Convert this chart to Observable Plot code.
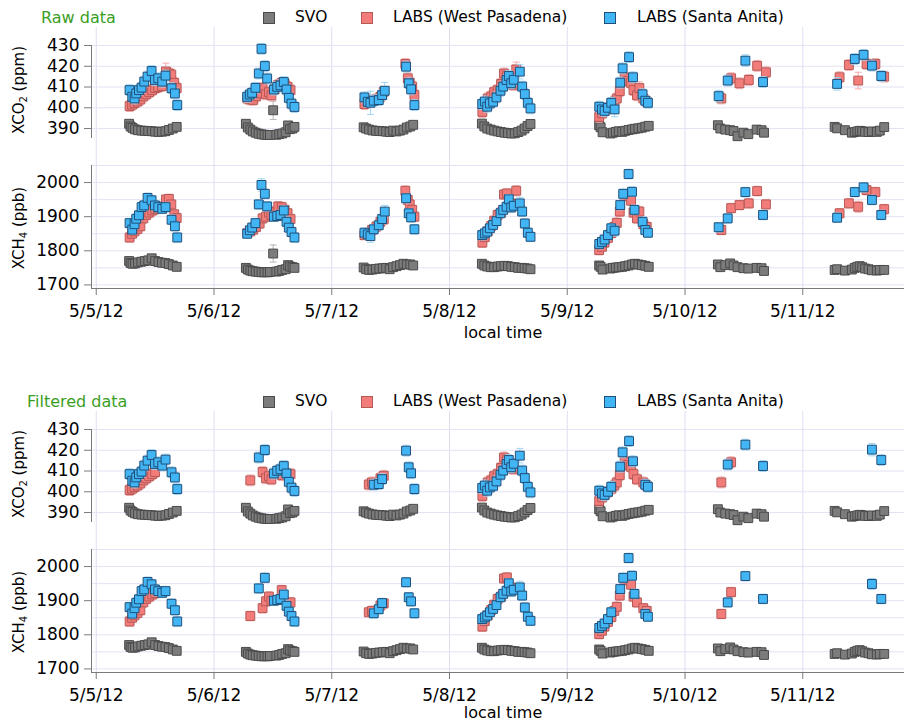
<!DOCTYPE html>
<html><head><meta charset="utf-8">
<script src="https://cdn.jsdelivr.net/npm/d3@7"></script>
<script src="https://cdn.jsdelivr.net/npm/@observablehq/plot@0.6"></script>
<style>
body{margin:0;background:#fff;font-family:"DejaVu Sans",sans-serif;}
#root{position:relative;width:904px;height:724px;overflow:hidden;background:#fff;}
.abs{position:absolute;white-space:nowrap;line-height:1;}
.plot{position:absolute;left:0;}
sub{font-size:10px;vertical-align:-3px;line-height:0;}
.sq{position:absolute;width:10px;height:10px;border:1px solid;}
</style></head>
<body><div id="root"></div>
<script>
// ---------- axis & legend text ----------
const panelTitles = ["Raw data", "Filtered data"];
const seriesNames = ["SVO", "LABS (West Pasadena)", "LABS (Santa Anita)"];
const xTitle = "local time";
const dayTicks = [5, 6, 7, 8, 9, 10, 11];
const dayLabels = ["5/5/12", "5/6/12", "5/7/12", "5/8/12", "5/9/12", "5/10/12", "5/11/12"];
const xExtent = ["2012-05-04T23:02:00Z", "2012-05-11T20:44:00Z"];
const co2Extent = [385.2, 430];
const co2Ticks = [390, 400, 410, 420, 430];
const ch4Extent = [1689.5, 2050];
const ch4Ticks = [1700, 1800, 1900, 2000];
const ch4Grid = [1700, 1750, 1800, 1850, 1900, 1950, 2000, 2050];
// typical 1-sigma error bars when not listed per point
const typicalErr = {svoCO2: 0.6, labsCO2: 2.6, svoCH4: 4, labsCH4: 14};

// ---------- data: [day of May 2012, local hour, value, (error)] ----------
// RAW
const svoCO2Raw = [
[5,6.7,392.3],[5,7.0,391.0],[5,7.4,390.3],[5,7.9,389.6],[5,8.5,389.2],[5,9.2,389.0],[5,9.9,388.9],[5,10.6,388.8],[5,11.3,388.7],[5,12.0,388.5],[5,12.7,388.4],[5,13.4,388.5],[5,14.1,388.7],[5,14.8,389.3],[5,15.6,390.0],[5,16.4,390.8],
[6,6.5,392.3],[6,6.9,390.5],[6,7.4,389.5],[6,7.9,388.6],[6,8.5,388.0],[6,9.1,387.5],[6,9.7,387.2],[6,10.3,387.0],[6,10.9,386.9],[6,11.4,386.9],[6,12.06,398.8,4.4],[6,12.7,387.0],[6,13.3,387.3],[6,13.9,387.6],[6,14.6,388.2],[6,15.1,391.5,1.5],[6,15.5,389.7],[6,16.0,390.0],[6,16.4,390.8],
[7,6.5,390.6],[7,7.0,390.0],[7,7.6,389.5],[7,8.3,389.1],[7,9.0,388.9],[7,9.7,388.8],[7,10.4,388.7],[7,11.1,388.5],[7,11.8,388.3],[7,12.5,389.0],[7,13.2,388.6],[7,13.9,389.0],[7,14.6,389.5],[7,15.3,390.5],[7,16.0,391.0],[7,16.6,391.8],
[8,6.6,392.4],[8,7.1,391.0],[8,7.7,390.0],[8,8.4,389.5],[8,9.1,389.0],[8,9.8,388.6],[8,10.5,388.3],[8,11.2,388.0],[8,11.9,387.8],[8,12.6,387.6],[8,13.3,387.7],[8,14.0,388.3],[8,14.7,389.0],[8,15.3,390.0],[8,15.9,391.2],[8,16.5,392.2],
[9,6.5,391.5],[9,6.8,390.6],[9,7.2,388.2],[9,8.8,387.6],[9,9.3,388.0],[9,9.9,388.4],[9,10.5,388.7],[9,11.2,388.4],[9,11.8,388.9],[9,12.5,389.3],[9,13.2,389.6],[9,13.8,389.9],[9,14.5,390.1],[9,15.2,390.4],[9,15.9,390.9],[9,16.6,391.3],
[10,6.7,391.6],[10,7.2,390.0],[10,8.2,389.5],[10,9.2,389.2],[10,9.9,388.8],[10,10.7,386.3],[10,11.9,388.0],[10,12.9,387.3],[10,14.6,389.5],[10,15.6,389.2],[10,16.1,388.0],
[11,6.5,390.8],[11,7.0,390.1],[11,8.6,389.2],[11,10.0,388.0],[11,10.6,388.3],[11,11.1,388.6],[11,11.6,388.9],[11,12.1,388.7],[11,12.7,388.4],[11,13.4,388.3],[11,14.1,388.6],[11,15.1,388.4],[11,15.7,389.0],[11,16.6,390.7]
];
const svoCH4Raw = [
[5,6.7,1770],[5,7.0,1764],[5,7.4,1762],[5,7.9,1763],[5,8.5,1766],[5,9.2,1768],[5,9.9,1770],[5,10.6,1772],[5,11.3,1778],[5,12.0,1770],[5,12.7,1767],[5,13.4,1765],[5,14.1,1764],[5,14.8,1761],[5,15.6,1757],[5,16.4,1753],
[6,6.5,1750],[6,6.9,1745],[6,7.4,1742],[6,7.9,1740],[6,8.5,1739],[6,9.1,1738],[6,9.7,1737],[6,10.3,1737],[6,10.9,1737],[6,11.4,1738],[6,12.06,1792,25],[6,12.7,1739],[6,13.3,1741],[6,13.9,1744],[6,14.6,1746],[6,15.1,1758],[6,15.5,1754],[6,16.0,1752],[6,16.4,1750],
[7,6.5,1751],[7,7.0,1746],[7,7.6,1744],[7,8.3,1745],[7,9.0,1747],[7,9.7,1748],[7,10.4,1749],[7,11.1,1750],[7,11.8,1746],[7,12.5,1752],[7,13.2,1755],[7,13.9,1758],[7,14.6,1762],[7,15.3,1760],[7,16.0,1760],[7,16.6,1757],
[8,6.6,1762],[8,7.1,1757],[8,7.7,1754],[8,8.4,1752],[8,9.1,1752],[8,9.8,1754],[8,10.5,1755],[8,11.2,1756],[8,11.9,1755],[8,12.6,1753],[8,13.3,1752],[8,14.0,1750],[8,14.7,1750],[8,15.3,1749],[8,15.9,1748],[8,16.5,1746],
[9,6.5,1757],[9,6.8,1753],[9,7.2,1745],[9,8.8,1748],[9,9.3,1750],[9,9.9,1751],[9,10.5,1752],[9,11.2,1753],[9,11.8,1755],[9,12.5,1757],[9,13.2,1760],[9,13.8,1762],[9,14.5,1760],[9,15.2,1758],[9,15.9,1756],[9,16.6,1753],
[10,6.7,1760],[10,7.2,1752],[10,8.2,1758],[10,9.2,1763],[10,9.9,1757],[10,10.7,1752],[10,11.9,1749],[10,12.9,1748],[10,14.6,1750],[10,15.6,1749],[10,16.1,1741],
[11,6.5,1744],[11,7.0,1746],[11,8.6,1742],[11,10.0,1745],[11,10.6,1750],[11,11.1,1753],[11,11.6,1755],[11,12.1,1752],[11,12.7,1748],[11,13.4,1746],[11,14.1,1743],[11,15.1,1742],[11,15.7,1744],[11,16.6,1744]
];
const wpCO2Raw = [
[5,6.8,400.8],[5,7.3,401.5],[5,7.8,402.3],[5,8.4,403.0],[5,9.0,404.0],[5,9.6,405.5],[5,10.2,406.5],[5,10.8,407.5],[5,11.4,408.5],[5,12.0,409.5],[5,12.6,410.0],[5,13.4,410.5],[5,14.2,417.5,4],[5,14.8,416.5],[5,15.3,416.0],[5,15.9,412.0],[5,16.4,409.5],
[6,6.8,404.5],[6,7.4,404.0],[6,8.0,403.8],[6,8.6,405.5],[6,9.3,407.0],[6,9.9,409.5],[6,10.6,406.5],[6,11.2,407.5],[6,11.7,406.0],[6,12.4,409.0],[6,13.1,411.0],[6,13.8,412.0],[6,14.4,411.5],[6,15.0,410.0],[6,15.6,408.5],
[7,6.66,401.8],[7,7.54,402.9],[7,8.2,403.5],[7,9.1,404.0],[7,9.92,405.3],[7,10.6,407.7],[7,15.0,421.1],[7,15.5,414.2],[7,15.9,412.1],[7,16.4,410.2],[7,16.85,406.1],
[8,6.7,398.0],[8,7.2,402.0],[8,7.8,404.5],[8,8.5,405.5],[8,9.1,407.5],[8,9.8,408.5],[8,10.5,411.5],[8,11.1,416.5],[8,11.7,415.5],[8,12.3,413.0],[8,13.0,411.0],[8,13.6,418.5,3.5],
[9,6.5,395.6],[9,7.1,397.3],[9,7.6,398.5],[9,8.3,400.0],[9,9.0,401.5],[9,9.6,403.0],[9,10.1,404.5],[9,10.7,408.0],[9,11.7,414.5],[9,12.3,413.0],[9,13.0,412.0],[9,13.5,408.5],[9,14.2,406.0],[9,14.7,409.5,3],[9,15.5,404.5],[9,16.2,403.0],
[10,7.4,404.5],[10,9.4,414.2],[10,11.1,411.8],[10,13.0,413.4],[10,14.7,420.2],[10,16.5,417.1],
[11,7.5,414.7],[11,9.4,420.6],[11,11.3,413.1,4],[11,13.0,421.1],[11,14.8,421.1],[11,16.6,415.0]
];
const wpCH4Raw = [
[5,6.8,1839],[5,7.3,1850],[5,7.8,1857],[5,8.4,1864],[5,9.0,1872],[5,9.6,1895],[5,10.2,1905],[5,10.8,1912],[5,11.4,1918],[5,12.0,1922],[5,12.6,1925],[5,13.4,1930],[5,14.2,1950],[5,14.8,1952],[5,15.3,1936],[5,15.9,1907],[5,16.4,1896],
[6,6.8,1852],[6,7.4,1857],[6,8.0,1862],[6,8.6,1870],[6,9.3,1880],[6,9.9,1895],[6,10.6,1900],[6,11.2,1912],[6,11.7,1905],[6,12.4,1915],[6,13.1,1930],[6,13.8,1928],[6,14.4,1920],[6,15.0,1910],[6,15.6,1893],
[7,6.66,1846],[7,7.54,1853],[7,8.2,1861],[7,9.1,1871],[7,9.92,1885],[7,10.6,1892],[7,15.0,1976],[7,15.5,1949],[7,15.9,1936],[7,16.4,1920],[7,16.85,1900],
[8,6.7,1824],[8,7.2,1840],[8,7.8,1858],[8,8.5,1873],[8,9.1,1888],[8,9.8,1905],[8,10.5,1912],[8,11.1,1965],[8,11.7,1968],[8,12.3,1940],[8,13.0,1935],[8,13.6,1976,15],
[9,6.5,1802],[9,7.1,1812],[9,7.6,1824],[9,8.3,1838],[9,9.0,1852],[9,9.6,1870],[9,10.1,1882],[9,10.7,1915],[9,11.7,1960],[9,12.3,1965],[9,13.0,1947],[9,13.5,1912],[9,14.2,1895],[9,14.7,1915,15],[9,15.5,1878],[9,16.2,1870],
[10,7.4,1861],[10,9.4,1925],[10,11.1,1934],[10,13.0,1939],[10,14.7,1975],[10,16.5,1936],
[11,7.5,1910],[11,9.4,1939],[11,11.3,1929,16],[11,13.0,1978],[11,14.8,1972],[11,16.6,1922]
];
const saCO2Raw = [
[5,6.79,408.5],[5,7.34,405.3],[5,7.81,404.5],[5,8.15,406.9],[5,8.70,408.5],[5,9.24,409.7],[5,9.78,412.6],[5,10.46,415.0],[5,11.28,417.7],[5,11.96,413.4],[5,12.64,414.2],[5,13.45,412.6],[5,14.13,415.5],[5,15.35,409.4],[5,16.03,406.9],[5,16.51,401.3],
[6,6.76,405.3],[6,7.3,406.4],[6,7.78,407.2],[6,8.45,409.6],[6,9.13,416.5],[6,9.68,428.4],[6,10.36,420.1],[6,10.84,414.1],[6,12.2,408.8],[6,12.88,410.1],[6,13.55,410.8],[6,14.23,412.4],[6,14.78,408.8],[6,15.25,404.8],[6,15.8,402.0],[6,16.4,400.4],
[7,6.66,405.0],[7,7.34,402.9],[7,7.88,402.4,5.6],[7,8.56,403.4],[7,9.58,403.7],[7,10.26,406.1],[7,10.8,408.2,4],[7,15.15,419.8],[7,15.69,411.8],[7,16.17,408.9],[7,16.85,401.3],
[8,6.66,401.8],[8,7.2,403.0],[8,7.68,400.5],[8,8.22,402.1],[8,8.9,402.9],[8,9.58,405.0],[8,10.39,408.2],[8,10.94,410.2],[8,11.62,413.4],[8,12.09,415.3],[8,12.57,411.8],[8,13.1,413.5],[8,14.33,417.4,3.5],[8,14.81,410.2],[8,15.35,406.6],[8,15.96,402.4],[8,16.51,399.7],
[9,6.52,400.5],[9,7.07,399.2],[9,7.61,398.5],[9,8.29,400.0],[9,8.97,402.4],[9,9.65,399.2,3.5],[9,10.8,412.1],[9,11.28,419.0],[9,12.6,424.4],[9,13.4,414.7],[9,15.35,406.5],[9,15.9,403.4],[9,16.44,402.4],
[10,6.86,405.6,2.8],[10,8.7,413.1],[10,12.3,422.7,2.8],[10,15.9,412.4],
[11,7.0,411.5,3],[11,10.6,423.5],[11,12.4,425.5],[11,14.1,420.3],[11,16.0,415.3]
];
const saCH4Raw = [
[5,6.79,1881],[5,7.34,1862],[5,7.81,1878],[5,8.15,1894],[5,8.70,1904],[5,9.24,1928],[5,9.78,1933],[5,10.46,1955],[5,11.28,1948],[5,11.96,1933],[5,12.64,1928],[5,13.45,1923],[5,14.13,1928],[5,15.35,1891],[5,16.03,1872],[5,16.51,1839],
[6,6.76,1850],[6,7.3,1860],[6,7.78,1868],[6,8.45,1881],[6,9.13,1936],[6,9.68,1993,18],[6,10.36,1967],[6,10.84,1930],[6,12.2,1900],[6,12.88,1902],[6,13.55,1905],[6,14.23,1918],[6,14.78,1885],[6,15.25,1868],[6,15.8,1855],[6,16.4,1839],
[7,6.66,1853],[7,7.34,1848],[7,7.88,1843,18],[7,8.56,1863],[7,9.58,1875],[7,10.26,1893],[7,10.8,1915,18],[7,15.15,1954],[7,15.69,1910],[7,16.17,1898],[7,16.85,1863],
[8,6.66,1846],[8,7.2,1851],[8,7.68,1856],[8,8.22,1866],[8,8.9,1876],[8,9.58,1887],[8,10.39,1910],[8,10.94,1920],[8,11.62,1929],[8,12.09,1951],[8,12.57,1927],[8,13.1,1932],[8,14.33,1939,18],[8,14.81,1915],[8,15.35,1880],[8,15.96,1853],[8,16.51,1841],
[9,6.52,1820],[9,7.07,1826],[9,7.61,1833],[9,8.29,1846],[9,8.97,1866],[9,9.65,1859,16],[9,10.8,1934],[9,11.4,1967],[9,12.5,2025],[9,13.2,1973],[9,13.7,1920],[9,15.35,1885],[9,15.9,1861],[9,16.44,1853],
[10,6.86,1869],[10,8.7,1895],[10,12.3,1972],[10,15.9,1905],
[11,7.0,1897],[11,10.6,1972],[11,12.4,1986],[11,14.1,1949],[11,16.0,1905]
];

// FILTERED
const svoCO2Filt = [
[5,6.7,392.3],[5,7.0,391.0],[5,7.4,390.3],[5,7.9,389.6],[5,8.5,389.2],[5,9.2,389.0],[5,9.9,388.9],[5,10.6,388.8],[5,11.3,388.7],[5,12.0,388.5],[5,12.7,388.4],[5,13.4,388.5],[5,14.1,388.7],[5,14.8,389.3],[5,15.6,390.0],[5,16.4,390.8],
[6,6.5,392.3],[6,6.9,390.5],[6,7.4,389.5],[6,7.9,388.6],[6,8.5,388.0],[6,9.1,387.5],[6,9.7,387.2],[6,10.3,387.0],[6,10.9,386.9],[6,11.4,386.9],[6,12.7,387.0],[6,13.3,387.3],[6,13.9,387.6],[6,14.6,388.2],[6,15.1,391.5,1.5],[6,15.5,389.7],[6,16.0,390.0],[6,16.4,390.8],
[7,6.5,390.6],[7,7.0,390.0],[7,7.6,389.5],[7,8.3,389.1],[7,9.0,388.9],[7,9.7,388.8],[7,10.4,388.7],[7,11.1,388.5],[7,11.8,388.3],[7,12.5,389.0],[7,13.2,388.6],[7,13.9,389.0],[7,14.6,389.5],[7,15.3,390.5],[7,16.0,391.0],[7,16.6,391.8],
[8,6.6,392.4],[8,7.1,391.0],[8,7.7,390.0],[8,8.4,389.5],[8,9.1,389.0],[8,9.8,388.6],[8,10.5,388.3],[8,11.2,388.0],[8,11.9,387.8],[8,12.6,387.6],[8,13.3,387.7],[8,14.0,388.3],[8,14.7,389.0],[8,15.3,390.0],[8,15.9,391.2],[8,16.5,392.2],
[9,6.5,391.5],[9,6.8,390.6],[9,7.2,388.2],[9,8.8,387.6],[9,9.3,388.0],[9,9.9,388.4],[9,10.5,388.7],[9,11.2,388.4],[9,11.8,388.9],[9,12.5,389.3],[9,13.2,389.6],[9,13.8,389.9],[9,14.5,390.1],[9,15.2,390.4],[9,15.9,390.9],[9,16.6,391.3],
[10,6.7,391.6],[10,7.2,390.0],[10,8.2,389.5],[10,9.2,389.2],[10,9.9,388.8],[10,10.7,386.3],[10,11.9,388.0],[10,12.9,387.3],[10,14.6,389.5],[10,15.6,389.2],[10,16.1,388.0],
[11,6.5,390.8],[11,7.0,390.1],[11,8.6,389.2],[11,10.0,388.0],[11,10.6,388.3],[11,11.1,388.6],[11,11.6,388.9],[11,12.1,388.7],[11,12.7,388.4],[11,13.4,388.3],[11,14.1,388.6],[11,15.1,388.4],[11,15.7,389.0],[11,16.6,390.7]
];
const svoCH4Filt = [
[5,6.7,1770],[5,7.0,1764],[5,7.4,1762],[5,7.9,1763],[5,8.5,1766],[5,9.2,1768],[5,9.9,1770],[5,10.6,1772],[5,11.3,1778],[5,12.0,1770],[5,12.7,1767],[5,13.4,1765],[5,14.1,1764],[5,14.8,1761],[5,15.6,1757],[5,16.4,1753],
[6,6.5,1750],[6,6.9,1745],[6,7.4,1742],[6,7.9,1740],[6,8.5,1739],[6,9.1,1738],[6,9.7,1737],[6,10.3,1737],[6,10.9,1737],[6,11.4,1738],[6,12.7,1739],[6,13.3,1741],[6,13.9,1744],[6,14.6,1746],[6,15.1,1758],[6,15.5,1754],[6,16.0,1752],[6,16.4,1750],
[7,6.5,1751],[7,7.0,1746],[7,7.6,1744],[7,8.3,1745],[7,9.0,1747],[7,9.7,1748],[7,10.4,1749],[7,11.1,1750],[7,11.8,1746],[7,12.5,1752],[7,13.2,1755],[7,13.9,1758],[7,14.6,1762],[7,15.3,1760],[7,16.0,1760],[7,16.6,1757],
[8,6.6,1762],[8,7.1,1757],[8,7.7,1754],[8,8.4,1752],[8,9.1,1752],[8,9.8,1754],[8,10.5,1755],[8,11.2,1756],[8,11.9,1755],[8,12.6,1753],[8,13.3,1752],[8,14.0,1750],[8,14.7,1750],[8,15.3,1749],[8,15.9,1748],[8,16.5,1746],
[9,6.5,1757],[9,6.8,1753],[9,7.2,1745],[9,8.8,1748],[9,9.3,1750],[9,9.9,1751],[9,10.5,1752],[9,11.2,1753],[9,11.8,1755],[9,12.5,1757],[9,13.2,1760],[9,13.8,1762],[9,14.5,1760],[9,15.2,1758],[9,15.9,1756],[9,16.6,1753],
[10,6.7,1760],[10,7.2,1752],[10,8.2,1758],[10,9.2,1763],[10,9.9,1757],[10,10.7,1752],[10,11.9,1749],[10,12.9,1748],[10,14.6,1750],[10,15.6,1749],[10,16.1,1741],
[11,6.5,1744],[11,7.0,1746],[11,8.6,1742],[11,10.0,1745],[11,10.6,1750],[11,11.1,1753],[11,11.6,1755],[11,12.1,1752],[11,12.7,1748],[11,13.4,1746],[11,14.1,1743],[11,15.1,1742],[11,15.7,1744],[11,16.6,1744]
];
const wpCO2Filt = [
[5,6.8,400.8],[5,7.3,401.5],[5,7.8,402.3],[5,8.4,403.0],[5,9.0,404.0],[5,9.6,405.5],[5,10.2,406.5],[5,10.8,407.5],[5,11.4,408.5],[5,12.0,409.5],
[6,7.4,405.5],[6,9.9,409.5],[6,10.6,406.5],[6,11.2,407.5],[6,11.7,406.0],[6,13.8,408.0],[6,15.6,408.5],
[7,7.54,403.5],[7,8.2,404.5],[7,9.92,406.5],[7,10.6,407.7],
[8,6.7,398.0],[8,7.2,402.0],[8,7.8,404.5],[8,8.5,405.5],[8,9.1,407.5],[8,9.8,408.5],[8,10.5,411.5],[8,11.1,416.5],[8,11.7,415.5],[8,12.3,413.0],[8,13.0,411.0],
[9,6.5,395.6],[9,7.1,397.3],[9,7.6,398.5],[9,8.3,400.0],[9,9.0,401.5],[9,9.6,403.0],[9,10.1,404.5],[9,10.7,408.0],[9,11.7,414.5],[9,12.3,413.0],[9,13.0,412.0],[9,13.5,408.5],[9,14.2,406.0],[9,15.5,404.5],[9,16.2,403.0],
[10,7.4,404.5],[10,9.4,414.2]
];
const wpCH4Filt = [
[5,6.8,1839],[5,7.3,1850],[5,7.8,1857],[5,8.4,1864],[5,9.0,1872],[5,9.6,1895],[5,10.2,1905],[5,10.8,1912],[5,11.4,1918],[5,12.0,1922],
[6,7.4,1855],[6,9.9,1878],[6,10.6,1898],[6,11.2,1912],[6,11.7,1900],[6,13.8,1931],[6,15.6,1895],
[7,7.54,1866],[7,8.2,1870],[7,9.92,1886],[7,10.6,1892],
[8,6.7,1824],[8,7.2,1840],[8,7.8,1858],[8,8.5,1873],[8,9.1,1888],[8,9.8,1905],[8,10.5,1912],[8,11.1,1965],[8,11.7,1968],[8,12.3,1940],[8,13.0,1935],
[9,6.5,1802],[9,7.1,1812],[9,7.6,1824],[9,8.3,1838],[9,9.0,1852],[9,9.6,1870],[9,10.1,1882],[9,10.7,1915],[9,11.7,1960],[9,12.3,1965],[9,13.0,1947],[9,13.5,1912],[9,14.2,1895],[9,15.5,1878],[9,16.2,1870],
[10,7.4,1861],[10,9.4,1925]
];
const saCO2Filt = [
[5,6.79,408.5],[5,7.34,405.3],[5,7.81,404.5],[5,8.15,406.9],[5,8.70,408.5],[5,9.24,409.7],[5,9.78,412.6],[5,10.46,415.0],[5,11.28,417.7],[5,11.96,413.4],[5,12.64,414.2],[5,13.45,412.6],[5,14.13,415.5],[5,15.35,409.4],[5,16.03,406.9],[5,16.51,401.3],
[6,9.13,416.5],[6,10.36,420.1],[6,12.2,408.8],[6,12.88,410.1],[6,13.55,410.8],[6,14.23,412.4],[6,14.78,408.8],[6,15.25,404.8],[6,15.8,402.0],[6,16.4,400.4],
[7,8.56,403.4],[7,9.58,403.7],[7,10.26,406.1],[7,15.15,419.8],[7,15.69,411.8],[7,16.17,408.9],[7,16.85,401.3],
[8,6.66,401.8],[8,7.2,403.0],[8,7.68,400.5],[8,8.22,402.1],[8,8.9,402.9],[8,9.58,405.0],[8,10.39,408.2],[8,10.94,410.2],[8,11.62,413.4],[8,12.09,415.3],[8,12.57,411.8],[8,13.1,413.5],[8,14.33,417.4,3.5],[8,14.81,410.2],[8,15.35,406.6],[8,15.96,402.4],[8,16.51,399.7],
[9,6.52,400.5],[9,7.07,399.2],[9,7.61,398.5],[9,8.29,400.0],[9,8.97,402.4],[9,10.8,412.1],[9,11.28,419.0],[9,12.6,424.4],[9,13.4,414.7],[9,15.9,403.4],[9,16.44,402.4],
[10,8.7,413.1],[10,12.3,422.7],[10,15.9,412.4],
[11,14.1,420.3,3],[11,16.0,415.3]
];
const saCH4Filt = [
[5,6.79,1881],[5,7.34,1862],[5,7.81,1878],[5,8.15,1894],[5,8.70,1904],[5,9.24,1928],[5,9.78,1933],[5,10.46,1955],[5,11.28,1948],[5,11.96,1933],[5,12.64,1928],[5,13.45,1923],[5,14.13,1928],[5,15.35,1891],[5,16.03,1872],[5,16.51,1839],
[6,9.13,1936],[6,10.36,1967],[6,12.2,1900],[6,12.88,1902],[6,13.55,1905],[6,14.23,1918],[6,14.78,1885],[6,15.25,1868],[6,15.8,1855],[6,16.4,1839],
[7,8.56,1863],[7,9.58,1875],[7,10.26,1893],[7,15.15,1954],[7,15.69,1910],[7,16.17,1898],[7,16.85,1863],
[8,6.66,1846],[8,7.2,1851],[8,7.68,1856],[8,8.22,1866],[8,8.9,1876],[8,9.58,1887],[8,10.39,1910],[8,10.94,1920],[8,11.62,1929],[8,12.09,1951],[8,12.57,1927],[8,13.1,1932],[8,14.33,1939,18],[8,14.81,1915],[8,15.35,1880],[8,15.96,1853],[8,16.51,1841],
[9,6.52,1820],[9,7.07,1826],[9,7.61,1833],[9,8.29,1846],[9,8.97,1866],[9,10.8,1934],[9,11.4,1967],[9,12.5,2025],[9,13.2,1973],[9,13.7,1920],[9,15.9,1861],[9,16.44,1853],
[10,8.7,1895],[10,12.3,1972],[10,15.9,1905],
[11,14.1,1949,16],[11,16.0,1905]
];

// ---------- styles ----------
const colors = {
  svo: {fill: "#7c7c7c", stroke: "#4a4a4a", err: "#b4b4b4"},
  wp:  {fill: "#f27c7a", stroke: "#b65a58", err: "#f5abab"},
  sa:  {fill: "#42b6f4", stroke: "#1f4f7a", err: "#9fd5f5"}
};
const gridColor = "#e3e3f5";
const vGridColor = "#dedef2";
const axisColor = "#7a7a7a";
const titleColor = "#3a9e1e";
const FONT = "DejaVu Sans";

const xDom = xExtent.map(s => new Date(s));
const dayDates = dayTicks.map(d => new Date(Date.UTC(2012, 4, d)));
const labelOf = new Map(dayDates.map((d, i) => [+d, dayLabels[i]]));
const cap = {draw(ctx) { ctx.moveTo(-3.5, 0); ctx.lineTo(3.5, 0); }};

function recs(arr, typical) {
  return arr.map(([day, hour, value, err]) => ({
    t: new Date(Date.UTC(2012, 4, day) + hour * 3600000), v: value, e: err ?? typical
  }));
}
function seriesMarks(data, c) {
  return [
    Plot.ruleX(data, {x: "t", y1: d => d.v - d.e, y2: d => d.v + d.e, stroke: c.err, strokeWidth: 1}),
    Plot.dot(data, {x: "t", y: d => d.v - d.e, symbol: cap, r: 1, stroke: c.err, fill: "none", strokeWidth: 1}),
    Plot.dot(data, {x: "t", y: d => d.v + d.e, symbol: cap, r: 1, stroke: c.err, fill: "none", strokeWidth: 1}),
    Plot.dot(data, {x: "t", y: "v", symbol: "square", r: 5, fill: c.fill, stroke: c.stroke, strokeWidth: 1})
  ];
}
const plotStyle = {background: "transparent", fontFamily: FONT, color: "#000", overflow: "visible"};

function co2Plot(svo, wp, sa) {
  return Plot.plot({
    width: 904, height: 150, marginTop: 45, marginBottom: 12, marginLeft: 91, marginRight: 0,
    style: plotStyle,
    x: {type: "utc", domain: xDom, axis: null},
    y: {domain: co2Extent},
    marks: [
      Plot.ruleY(co2Ticks, {stroke: gridColor}),
      Plot.ruleX([xDom[0]], {stroke: axisColor}),
      ...seriesMarks(recs(svo, typicalErr.svoCO2), colors.svo),
      ...seriesMarks(recs(wp, typicalErr.labsCO2), colors.wp),
      ...seriesMarks(recs(sa, typicalErr.labsCO2), colors.sa),
      Plot.axisY(co2Ticks, {tickSize: 7, tickPadding: 5, fontSize: 17, stroke: axisColor, label: null, tickFormat: d => String(d)})
    ]
  });
}
function ch4Plot(svo, wp, sa) {
  return Plot.plot({
    width: 904, height: 340, marginTop: 165, marginBottom: 52, marginLeft: 91, marginRight: 0,
    style: plotStyle,
    x: {type: "utc", domain: xDom},
    y: {domain: ch4Extent},
    marks: [
      Plot.ruleY(ch4Grid, {stroke: gridColor}),
      Plot.ruleX(dayDates, {stroke: vGridColor, insetTop: -138}),
      Plot.ruleX([xDom[0]], {stroke: axisColor}),
      Plot.ruleY([ch4Extent[0]], {stroke: axisColor}),
      ...seriesMarks(recs(svo, typicalErr.svoCH4), colors.svo),
      ...seriesMarks(recs(wp, typicalErr.labsCH4), colors.wp),
      ...seriesMarks(recs(sa, typicalErr.labsCH4), colors.sa),
      Plot.axisY(ch4Ticks, {tickSize: 7, tickPadding: 5, fontSize: 17, stroke: axisColor, label: null, tickFormat: d => String(d)}),
      Plot.axisX(dayDates, {tickSize: 7, tickPadding: 9, fontSize: 17, stroke: axisColor, label: null, tickFormat: d => labelOf.get(+d)})
    ]
  });
}

const root = document.getElementById("root");
function add(html, style) {
  const el = document.createElement("div");
  el.className = "abs";
  el.innerHTML = html;
  Object.assign(el.style, style);
  root.appendChild(el);
  return el;
}
function block(top, title, titleLeft, xTitleTop, data) {
  const ch4 = ch4Plot(data.svoCH4, data.wpCH4, data.saCH4);
  ch4.classList.add("plot"); ch4.style.position = "absolute"; ch4.style.top = top + "px"; ch4.style.left = "0px";
  root.appendChild(ch4);
  const co2 = co2Plot(data.svoCO2, data.wpCO2, data.saCO2);
  co2.classList.add("plot"); co2.style.position = "absolute"; co2.style.top = top + "px"; co2.style.left = "0px";
  root.appendChild(co2);
  // title
  add(title, {left: titleLeft + "px", top: (top + 10) + "px", fontSize: "16px", color: titleColor});
  // legend
  const items = [[263, 295, colors.svo, seriesNames[0]], [361, 393, colors.wp, seriesNames[1]], [604, 637, colors.sa, seriesNames[2]]];
  for (const [sx, tx, c, name] of items) {
    const sq = document.createElement("div");
    sq.className = "sq";
    Object.assign(sq.style, {left: sx + "px", top: (top + 12) + "px", background: c.fill, borderColor: c.stroke});
    root.appendChild(sq);
    add(name, {left: tx + "px", top: (top + 10) + "px", fontSize: "15.5px", color: "#000"});
  }
  // axis titles
  add("XCO<sub>2</sub> (ppm)", {left: "19px", top: (top + 90) + "px", fontSize: "15px", transform: "translate(-50%,-50%) rotate(-90deg)"});
  add("XCH<sub>4</sub> (ppb)", {left: "19px", top: (top + 228) + "px", fontSize: "15px", transform: "translate(-50%,-50%) rotate(-90deg)"});
  add(xTitle, {left: "503px", top: xTitleTop + "px", fontSize: "16px", transform: "translate(-50%,-50%)"});
}

block(0, panelTitles[0], 41, 333, {svoCO2: svoCO2Raw, wpCO2: wpCO2Raw, saCO2: saCO2Raw, svoCH4: svoCH4Raw, wpCH4: wpCH4Raw, saCH4: saCH4Raw});
block(384, panelTitles[1], 27, 713, {svoCO2: svoCO2Filt, wpCO2: wpCO2Filt, saCO2: saCO2Filt, svoCH4: svoCH4Filt, wpCH4: wpCH4Filt, saCH4: saCH4Filt});
</script>
</body></html>
